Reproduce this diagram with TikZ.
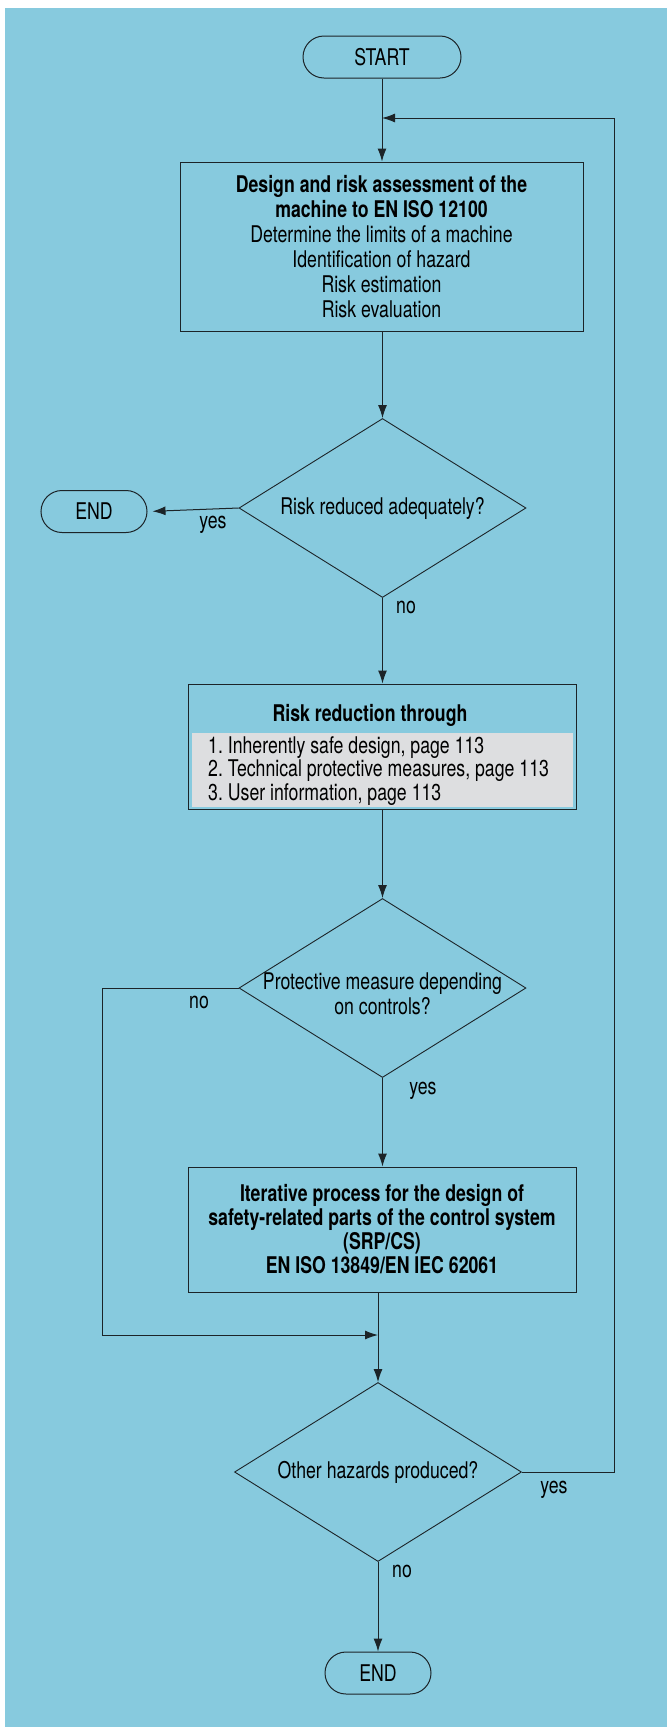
\documentclass[tikz,border=0pt]{standalone}
\usepackage{fontspec}
\setmainfont{TeX Gyre Heros}[FakeStretch=0.77]
\usepackage{tikz}
\usetikzlibrary{positioning,arrows.meta,calc,shapes.geometric}
\usepackage{xcolor}
\definecolor{bgblue}{RGB}{135,202,222}
\definecolor{listgrey}{RGB}{221,222,224}
\definecolor{linedark}{RGB}{28,36,40}
\frenchspacing

\begin{document}
\begin{tikzpicture}[
    x=1pt, y=-1pt,
    every node/.style={font=\fontsize{23}{25}\selectfont, text=black},
    term/.style={draw=linedark, line width=1pt, rounded corners=21pt,
                 minimum height=42pt, inner sep=0pt},
    blk/.style={draw=linedark, line width=1pt, align=center, inner sep=0pt},
    dec/.style={draw=linedark, line width=0.9pt, diamond, inner sep=0pt,
                minimum width=287pt, minimum height=179pt},
    arr/.style={draw=linedark, line width=1pt, -{Latex[length=13pt,width=9pt]}},
    lbl/.style={inner sep=0pt}
  ]
  % --- Background ---
  \useasboundingbox (0,0) rectangle (667,1727);
  \fill[white] (0,0) rectangle (667,1727);
  \fill[bgblue] (5,7.5) rectangle (667,1727);

  % --- Assessment ---
  \node[term, minimum width=158pt] (start) at (382,57) {START};
  \node[blk, minimum width=403pt, minimum height=169pt] (assess) at (381.5,246.5)
    {\textbf{Design and risk assessment of the}\\\textbf{machine to EN ISO 12100}\\
     Determine the limits of a machine\\Identification of hazard\\
     Risk estimation\\Risk evaluation};
  \node[dec, label={center:Risk reduced adequately?}] (risk) at (382.5,508) {};
  \node[term, minimum width=106pt] (end1) at (94,511.5) {END};

  % --- Reduction ---
  \node[blk, minimum width=388pt, minimum height=125pt] (reduce) at (382,746.5) {};
  \node[fill=listgrey, minimum width=381pt, minimum height=74pt, inner sep=0pt]
    (listbg) at (382.5,770) {};
  \node[anchor=west, align=left, inner sep=0pt,
        font=\fontsize{23}{23.5}\selectfont] (measures) at (208,771)
    {1. Inherently safe design, page 113\\
     2. Technical protective measures, page 113\\
     3. User information, page 113};
  \node[font=\fontsize{23}{25}\selectfont\bfseries] (reducetitle) at (370,715)
    {Risk reduction through};
  \node[dec, label={[align=center, yshift=-6pt]center:Protective measure depending\\on controls?}]
    (prot) at (382.5,988) {};
  \node[blk, minimum width=388pt, minimum height=125pt,
        font=\fontsize{23}{24}\selectfont\bfseries] (srp) at (382,1229.5)
    {Iterative process for the design of\\safety-related parts of the control system\\
     (SRP/CS)\\EN ISO 13849/EN IEC 62061};

  % --- Check ---
  \node[dec, label={center:Other hazards produced?}] (other) at (378,1472) {};
  \node[term, minimum width=106pt] (end2) at (378,1673) {END};

  \coordinate (loop) at (382,118);
  \coordinate (railR) at (614,118);
  \coordinate (join) at (378,1335);
  \coordinate (railL) at (102,1335);

  % Connectors
  \draw[arr] (start.south) -- (start.south |- assess.north);
  \draw[arr] (other.east) -| (railR) -- (loop);
  \draw[arr] (assess.south -| risk.north) -- (risk.north);
  \draw[arr, shorten >=5pt] (risk.west) -- (end1.east);
  \draw[arr] (risk.south) -- (risk.south |- reduce.north);
  \draw[arr] (reduce.south -| prot.north) -- (prot.north);
  \draw[arr] (prot.south) -- (prot.south |- srp.north);
  \draw[arr] (prot.west) -| (railL) -- (join);
  \draw[arr] (srp.south -| other.north) -- (other.north);
  \draw[arr] (other.south) -- (end2.north);

  % Labels
  \node[lbl] (yes1) at (213,525) {yes};
  \node[lbl] (no1) at (406,607) {no};
  \node[lbl] (no2) at (199,1002) {no};
  \node[lbl] (yes2) at (423,1091) {yes};
  \node[lbl] (yes3) at (554,1490) {yes};
  \node[lbl] (no3) at (402,1571) {no};
\end{tikzpicture}
\end{document}
